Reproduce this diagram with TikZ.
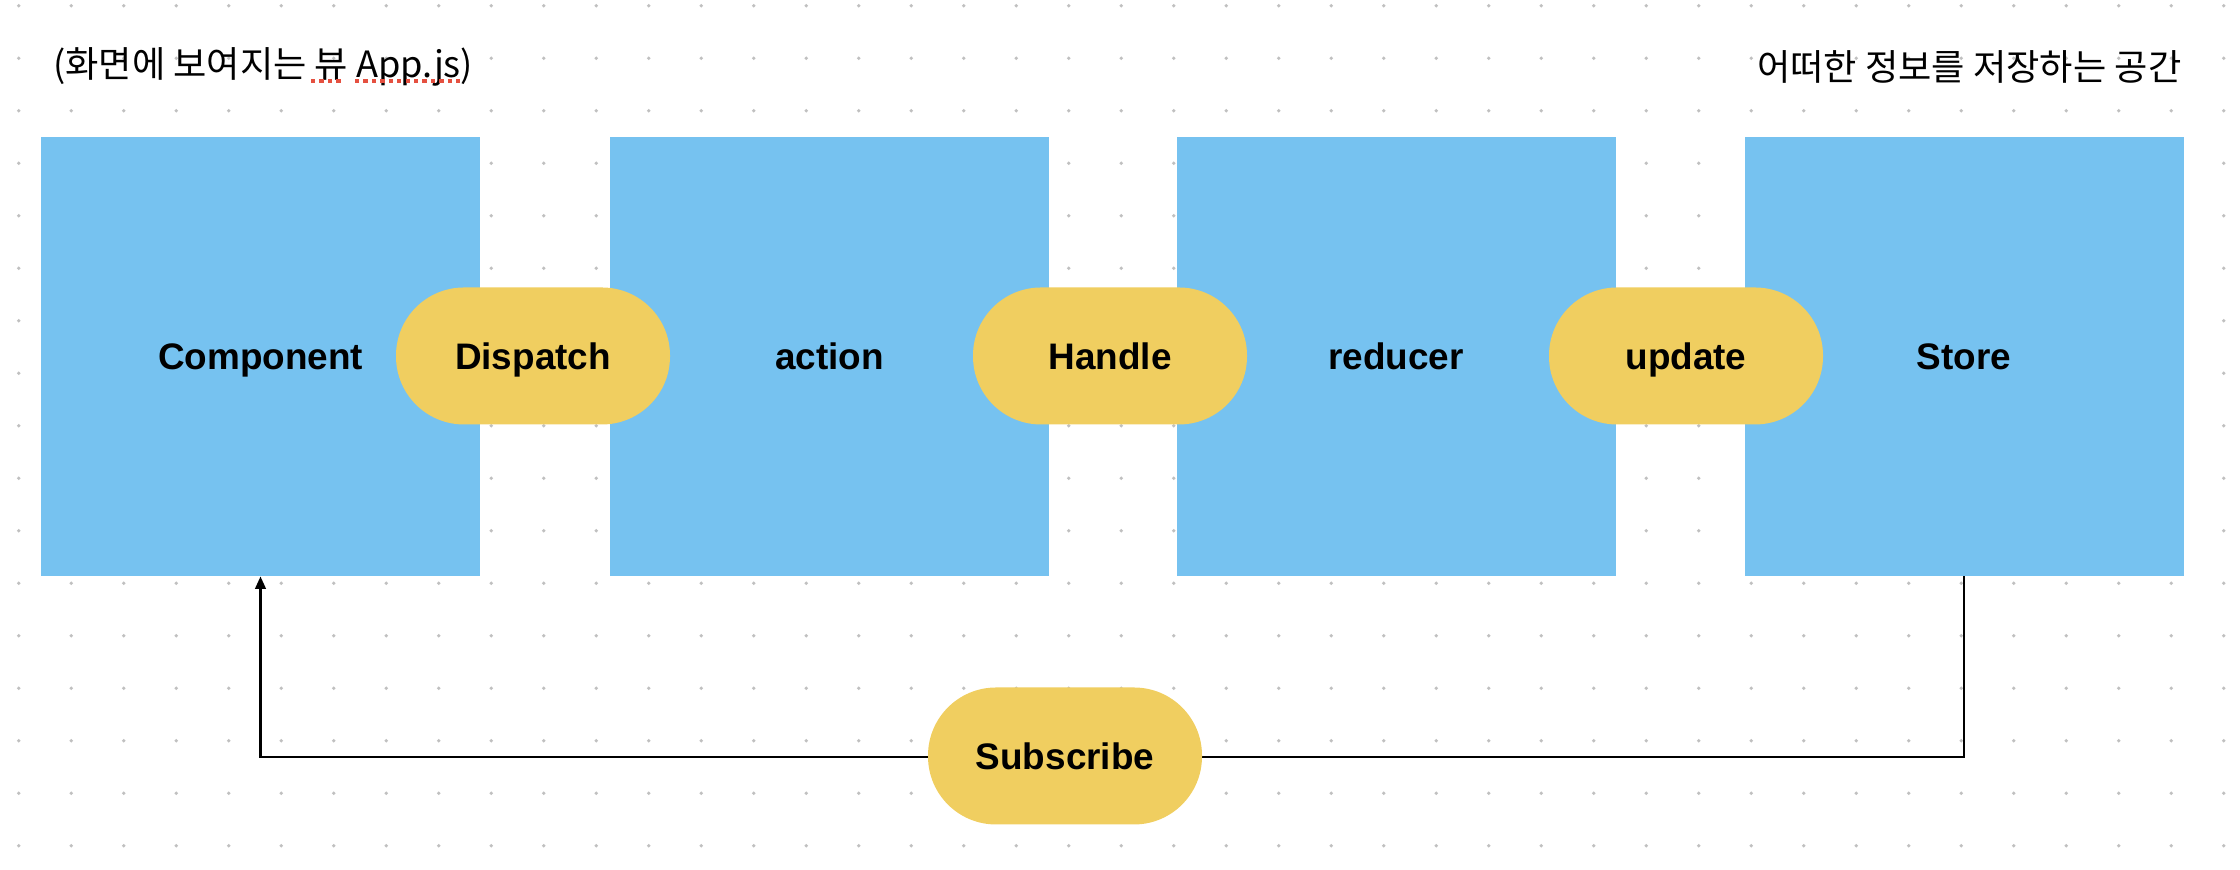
\documentclass[tikz,border=0pt]{standalone}
\usepackage{fontspec}
\setmainfont{Liberation Sans}
\newfontfamily\krfont{Noto Sans CJK KR}
\usetikzlibrary{arrows.meta}

\definecolor{boxblue}{RGB}{118,194,240}
\definecolor{pillyellow}{RGB}{240,206,96}
\definecolor{griddot}{RGB}{192,192,192}
\definecolor{spellred}{RGB}{229,80,64}

\begin{document}
\begin{tikzpicture}[
  box/.style={fill=boxblue, minimum width=4.39cm, minimum height=4.39cm, inner sep=0pt, text height=7.6pt, text depth=0pt, font=\fontsize{10.5}{12}\selectfont\bfseries},
  pill/.style={fill=pillyellow, rounded corners=0.68cm, minimum width=2.74cm, minimum height=1.37cm, inner sep=0pt, text height=7.6pt, text depth=0pt, font=\fontsize{10.5}{12}\selectfont\bfseries},
  note/.style={font=\krfont\fontsize{10.3}{12}\selectfont, inner sep=0pt}
]

%%% 背景
\useasboundingbox (0,0) rectangle (22.4,8.7);
\foreach \i in {0,...,42}
  \foreach \j in {0,...,16}
    \fill[griddot] (0.1875+0.525*\i, 8.643-0.525*\j) circle (0.019);
%%%

%% 箱
\node[box] (comp) at (2.605,5.137) {Component};
\node[box] (action) at (8.295,5.137) {action};
\node[box] (reducer) at (13.96,5.137) {reducer};
\node[box] (store) at (19.64,5.137) {Store};

%% 線
\coordinate (turnR) at (19.64,1.13);
\coordinate (turnL) at (2.605,1.13);
\draw[line width=0.6pt, -{Triangle[length=3.5pt,width=3pt]}] (store.south) -- (turnR) -- (turnL) -- (comp.south);

%% ラベル
\node[pill] (dispatch) at (5.33,5.14) {Dispatch};
\node[pill] (handle) at (11.10,5.14) {Handle};
\node[pill] (update) at (16.86,5.14) {update};
\node[pill] (sub) at (10.65,1.14) {Subscribe};

%% 説明
\node[note, anchor=west] (view) at (0.527,8.03) {(화면에 보여지는 뷰 App.js)};
\node[note, anchor=east] (space) at (21.82,8.03) {어떠한 정보를 저장하는 공간};
\draw[spellred, line width=1pt, dash pattern=on 1.2pt off 1.2pt] (3.11,7.89) -- (3.415,7.89) (3.55,7.89) -- (4.60,7.89);

\end{tikzpicture}
\end{document}
